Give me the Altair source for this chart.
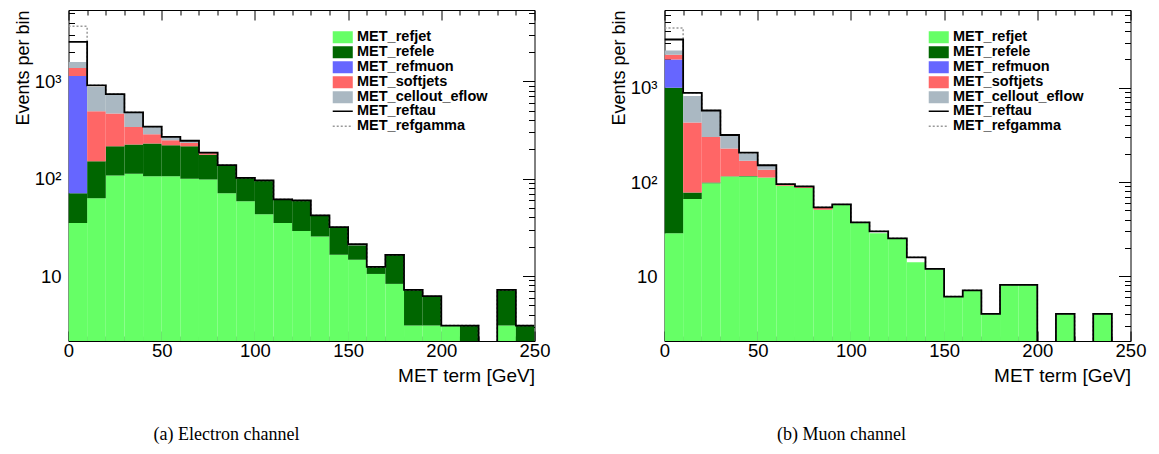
import altair as alt
import numpy as np
import pandas as pd

# ---------------- data (10 GeV bins from 0 to 250 GeV) ----------------
bin_lo = [0, 10, 20, 30, 40, 50, 60, 70, 80, 90, 100, 110, 120, 130, 140,
          150, 160, 170, 180, 190, 200, 210, 220, 230, 240]
BIN_W = 10

components = ["MET_refjet", "MET_refele", "MET_refmuon", "MET_softjets", "MET_cellout_eflow"]
comp_colors = ["#66ff66", "#006600", "#6666ff", "#ff6666", "#aab8c2"]
line_terms = ["MET_reftau", "MET_refgamma"]
line_colors = ["#000000", "#999999"]

# Electron channel: per-bin contribution of each stacked term
e_refjet = [35, 63, 108, 112, 106, 106, 100, 98, 71, 58.5, 43, 35, 29, 25.5, 16.5,
            14.7, 10.5, 8.3, 3.1, 3.1, 3.1, 0, 0, 3.1, 0]
e_refele = [36, 88, 107, 112, 123, 114, 115, 78, 66, 43.5, 53, 26.3, 30.8, 16.5, 15.3,
            5.9, 1.9, 8.2, 4.1, 3.1, 0, 3.1, 0, 4.1, 3.1]
e_refmuon = [1064, 0, 0, 0, 0, 0, 0, 0, 0, 0, 0, 0, 0, 0, 0,
             0, 0, 0, 0, 0, 0, 0, 0, 0, 0]
e_softjets = [235, 341, 251, 116, 56, 28, 17, 7, 1, 0, 0, 0, 0, 0, 0,
              0, 0, 0, 0, 0, 0, 0, 0, 0, 0]
e_cellout = [208, 383, 269, 133, 55, 20, 12, 1, 0, 0, 0, 0, 0, 0, 0,
             0, 0, 0, 0, 0, 0, 0, 0, 0, 0]
e_reftau = [957, 35, 5, 7, 2, 1, 1, 1, 0, 0, 0, 0, 0, 0, 0,
            0.6, 0, 0, 0, 0, 0, 0, 0, 0, 0]
e_refgamma = [1140, 0, 0, 0, 0, 0, 0, 0, 0, 0, 0, 0, 0, 0, 0,
              0, 0, 0, 0, 0, 0, 0, 0, 0, 0]

# Muon channel
m_refjet = [28.6, 66, 97.5, 114.6, 114.6, 112, 91.4, 86.3, 50.9, 57.5, 37, 28.6, 25.3, 14.1, 12.0,
            6.1, 7.1, 4.0, 8.1, 8.1, 0, 4.0, 0, 4.0, 0]
m_refele = [971, 11.6, 1.5, 0.4, 1.4, 0, 0, 0, 0, 0, 0, 0, 0, 0, 0,
            0, 0, 0, 0, 0, 0, 0, 0, 0, 0]
m_refmuon = [1000, 0, 0, 0, 0, 0, 0, 0, 0, 0, 0, 0, 0, 0, 0,
             0, 0, 0, 0, 0, 0, 0, 0, 0, 0]
m_softjets = [240, 350, 202, 112, 52, 23, 2.1, 2.7, 2.1, 0, 0, 0, 0, 0, 0,
              0, 0, 0, 0, 0, 0, 0, 0, 0, 0]
m_cellout = [250, 391, 267, 87, 33, 14, 0.5, 0.5, 0.2, 0, 0, 0, 0, 0, 0,
             0, 0, 0, 0, 0, 0, 0, 0, 0, 0]
m_reftau = [770, 68, 7, 2, 4, 2, 1, 0.5, 0.8, 0.5, 0.3, 1.4, 0, 1.8, 0,
            0, 0, 0, 0, 0, 0, 0, 0, 0, 0]
m_refgamma = [1065, 0, 0, 0, 0, 0, 0, 0, 0, 0, 0, 0, 0, 0, 0,
              0, 0, 0, 0, 0, 0, 0, 0, 0, 0]

x_tick_values = [0, 10, 20, 30, 40, 50, 60, 70, 80, 90, 100, 110, 120, 130, 140,
                 150, 160, 170, 180, 190, 200, 210, 220, 230, 240, 250]

FLOOR = 1.0  # baseline below the visible log range (clipped)

SANS = "Liberation Sans"
SERIF = "Liberation Serif"
LEG_FS = 14.5


def y_ticks(lo, hi):
    vals = []
    for k in range(0, 5):
        for m in range(1, 10):
            v = m * 10 ** k
            if lo <= v <= hi:
                vals.append(v)
    return vals


def build_panel(stack, tau, gamma, y_domain, caption, cap_dx):
    rows = []
    cum = np.zeros(len(bin_lo))
    for name, vals in zip(components, stack):
        vals = np.array(vals, dtype=float)
        for i, v in enumerate(vals):
            if v > 0:
                rows.append(dict(component=name, x=bin_lo[i], x2=bin_lo[i] + BIN_W,
                                 y=cum[i] + v, y2=max(cum[i], FLOOR)))
        cum = cum + vals
    bars = pd.DataFrame(rows)

    tau_cum = cum + np.array(tau, dtype=float)
    gamma_cum = tau_cum + np.array(gamma, dtype=float)
    lrows = []
    for name, arr in (("MET_reftau", tau_cum), ("MET_refgamma", gamma_cum)):
        for i in range(len(bin_lo) + 1):
            v = arr[min(i, len(bin_lo) - 1)]
            lrows.append(dict(series=name, x=i * BIN_W, y=v if v > 0 else FLOOR))
    lines = pd.DataFrame(lrows)

    yt = y_ticks(y_domain[0], y_domain[1])
    xscale = alt.Scale(domain=[0, 250], nice=False, zero=False)
    yscale = alt.Scale(type="log", domain=y_domain, nice=False, zero=False)

    y_major_expr = "abs(log(datum.value)/LN10 - round(log(datum.value)/LN10)) < 0.001"
    y_label_expr = ("datum.value == 1000 ? '10³' : datum.value == 100 ? '10²' : "
                    "datum.value == 10 ? '10' : ''")

    x_axis_main = alt.Axis(
        orient="bottom", values=x_tick_values,
        labelExpr="datum.value % 50 == 0 ? datum.label : ''",
        tickSize=alt.ExprRef(expr="datum.value % 50 == 0 ? -10 : -5"),
        tickColor="black", tickWidth=1, labelPadding=10, domain=False, grid=False,
        labelFont=SANS, labelFontSize=18.5, labelColor="black",
        labelOverlap=False, labelFlush=False,
        title="MET term [GeV]", titleAnchor="end", titleFont=SANS, titleFontSize=19,
        titleFontWeight="normal", titleColor="black", titlePadding=2)
    y_axis_main = alt.Axis(
        orient="left", values=yt, labelExpr=y_label_expr,
        tickSize=alt.ExprRef(expr=f"{y_major_expr} ? -12 : -6"),
        tickColor="black", tickWidth=1, labelPadding=19.5, domain=False, grid=False,
        labelFont=SANS, labelFontSize=18.5, labelColor="black",
        labelOverlap=False, labelFlush=False,
        title="Events per bin", titleAnchor="end", titleFont=SANS, titleFontSize=18,
        titleFontWeight="normal", titleColor="black", titlePadding=2)
    x_axis_top = alt.Axis(
        orient="top", values=x_tick_values, labels=False,
        tickSize=alt.ExprRef(expr="datum.value % 50 == 0 ? -10 : -5"),
        tickColor="black", tickWidth=1, domain=False, grid=False, title=None)
    y_axis_right = alt.Axis(
        orient="right", values=yt, labels=False,
        tickSize=alt.ExprRef(expr=f"{y_major_expr} ? -12 : -6"),
        tickColor="black", tickWidth=1, domain=False, grid=False, title=None)

    fill_legend = alt.Legend(
        orient="none", legendX=267, legendY=20, title=None, padding=0,
        symbolType="M-1.67,-1H1.67V1H-1.67Z", symbolSize=144, symbolStrokeWidth=0,
        labelFont=SANS, labelFontSize=LEG_FS, labelFontWeight="bold", labelColor="black",
        labelOffset=7, rowPadding=0, symbolOpacity=1)
    line_legend = alt.Legend(
        orient="none", legendX=267, legendY=94, title=None, padding=0,
        symbolType="M-1.67,0H1.67", symbolSize=144, symbolStrokeWidth=1.5,
        labelFont=SANS, labelFontSize=LEG_FS, labelFontWeight="bold", labelColor="black",
        labelOffset=7, rowPadding=0)

    bar_layer = alt.Chart(bars).mark_rect(clip=True, strokeWidth=0).encode(
        x=alt.X("x:Q", scale=xscale, axis=x_axis_main),
        x2="x2:Q",
        y=alt.Y("y:Q", scale=yscale, axis=y_axis_main),
        y2="y2:Q",
        fill=alt.Fill("component:N", scale=alt.Scale(domain=components, range=comp_colors),
                      legend=fill_legend),
    )

    def line_layer(name, width, axes):
        xa, ya = axes
        return alt.Chart(lines).transform_filter(
            alt.datum.series == name
        ).mark_line(interpolate="step-after", clip=True, strokeWidth=width).encode(
            x=alt.X("x:Q", scale=xscale, axis=xa),
            y=alt.Y("y:Q", scale=yscale, axis=ya),
            stroke=alt.Stroke("series:N", scale=alt.Scale(domain=line_terms, range=line_colors),
                              legend=line_legend),
            strokeDash=alt.StrokeDash("series:N",
                                      scale=alt.Scale(domain=line_terms, range=[[1, 0], [2, 2]]),
                                      legend=line_legend),
        )

    gamma_layer = line_layer("MET_refgamma", 1.5, (x_axis_top, y_axis_right))
    tau_layer = line_layer("MET_reftau", 1.8, (None, None))

    return alt.layer(bar_layer, gamma_layer, tau_layer).resolve_axis(
        x="independent", y="independent"
    ).properties(
        width=466, height=331,
        title=alt.TitleParams(caption, orient="bottom", anchor="middle", dx=cap_dx, offset=40,
                              font=SERIF, fontSize=18, fontWeight="normal", color="black"),
    )


left = build_panel([e_refjet, e_refele, e_refmuon, e_softjets, e_cellout], e_reftau, e_refgamma,
                   [2.15, 5400], "(a) Electron channel", -75)
right = build_panel([m_refjet, m_refele, m_refmuon, m_softjets, m_cellout], m_reftau, m_refgamma,
                    [2.06, 6700], "(b) Muon channel", -56)

chart = alt.hconcat(left, right, spacing=59).resolve_scale(
    fill="independent", stroke="independent", strokeDash="independent"
).resolve_legend(
    fill="independent", stroke="independent", strokeDash="independent"
).configure_view(
    stroke="black", strokeWidth=1
).properties(
    padding={"left": 13.5, "top": 3, "right": 5, "bottom": 5}, background="white"
)

chart.save("out.html", embed_options={"renderer": "svg", "actions": False})
